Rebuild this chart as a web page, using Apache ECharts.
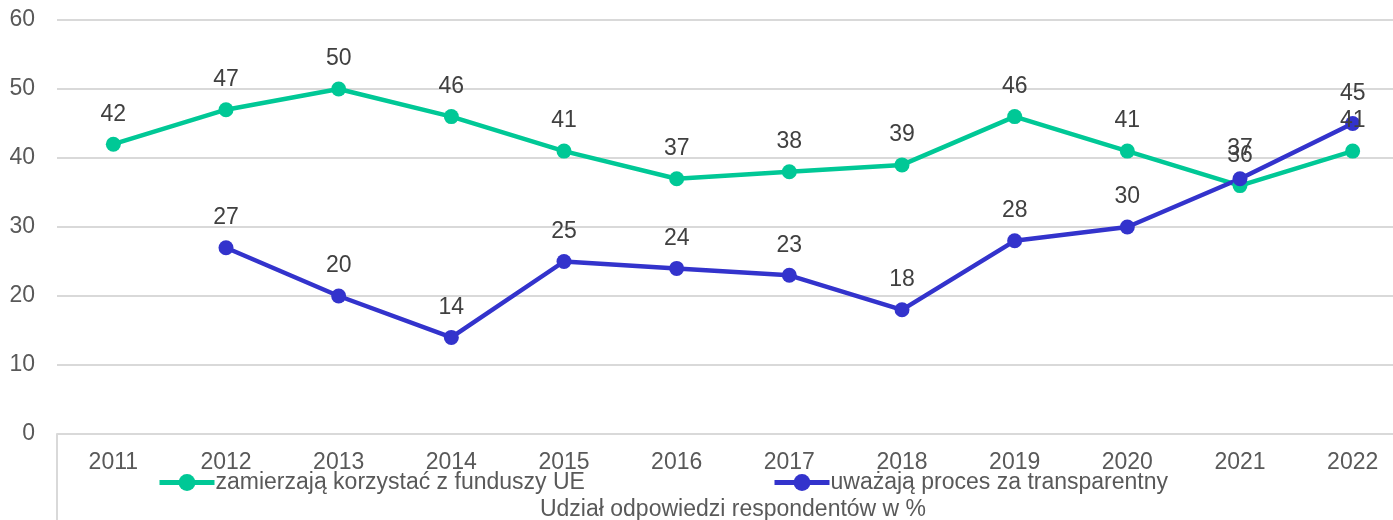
<!DOCTYPE html>
<html>
<head>
<meta charset="utf-8">
<script src="https://cdn.jsdelivr.net/npm/echarts@6/dist/echarts.min.js"></script>
<style>
  html, body { margin: 0; padding: 0; background: #fff; }
  #chart { width: 1393px; height: 520px; }
</style>
</head>
<body>
<div id="chart"></div>
<script>
// dane z wykresu
var years = ['2011', '2012', '2013', '2014', '2015', '2016', '2017', '2018', '2019', '2020', '2021', '2022'];
var korzystac = [42, 47, 50, 46, 41, 37, 38, 39, 46, 41, 36, 41];
var transparentny = [null, 27, 20, 14, 25, 24, 23, 18, 28, 30, 37, 45];
var yTicks = [0, 10, 20, 30, 40, 50, 60];
var seriesNames = ['zamierzają korzystać z funduszy UE', 'uważają proces za transparentny'];

var font = '"Liberation Sans", Arial, sans-serif';
var green = '#00C896';
var blue = '#3333CC';

function makeSeries(name, data, color) {
    return {
        name: name,
        type: 'line',
        data: data,
        symbol: 'circle',
        symbolSize: 15,
        lineStyle: { width: 4.5, color: color },
        itemStyle: { color: color },
        label: {
            show: true,
            position: 'top',
            distance: 11,
            fontFamily: font,
            fontSize: 23,
            color: '#404040'
        },
        emphasis: { disabled: true }
    };
}

function makeLegend(name, left) {
    return {
        data: [name],
        top: 466,
        left: left,
        itemWidth: 55,
        itemHeight: 21,
        lineStyle: { width: 5 },
        textStyle: { fontFamily: font, fontSize: 23, color: '#595959', padding: [0, 0, 0, -4] }
    };
}

var myChart = echarts.init(document.getElementById('chart'));
var option = {
    animation: false,
    textStyle: { fontFamily: font },
    grid: { left: 57, right: -16, top: 20, bottom: 86, outerBoundsMode: 'none' },
    legend: [
        makeLegend(seriesNames[0], 152),
        makeLegend(seriesNames[1], 767)
    ],
    xAxis: {
        type: 'category',
        data: years,
        boundaryGap: true,
        name: 'Udział odpowiedzi respondentów w %',
        nameLocation: 'middle',
        nameGap: 64,
        nameTextStyle: { fontFamily: font, fontSize: 23, color: '#595959' },
        axisLine: { lineStyle: { color: '#d9d9d9', width: 2 } },
        axisTick: { show: false },
        axisLabel: { fontFamily: font, fontSize: 23, color: '#595959', margin: 17 }
    },
    yAxis: {
        type: 'value',
        min: yTicks[0],
        max: yTicks[yTicks.length - 1],
        interval: 10,
        axisLine: { show: false },
        axisTick: { show: false },
        splitLine: { lineStyle: { color: '#d9d9d9', width: 2 } },
        axisLabel: { fontFamily: font, fontSize: 23, color: '#595959', margin: 22 }
    },
    graphic: [{
        type: 'line',
        shape: { x1: 57, y1: 434, x2: 57, y2: 520 },
        style: { stroke: '#d9d9d9', lineWidth: 2 }
    }],
    series: [
        makeSeries(seriesNames[0], korzystac, green),
        makeSeries(seriesNames[1], transparentny, blue)
    ]
};
myChart.setOption(option);
</script>
</body>
</html>
